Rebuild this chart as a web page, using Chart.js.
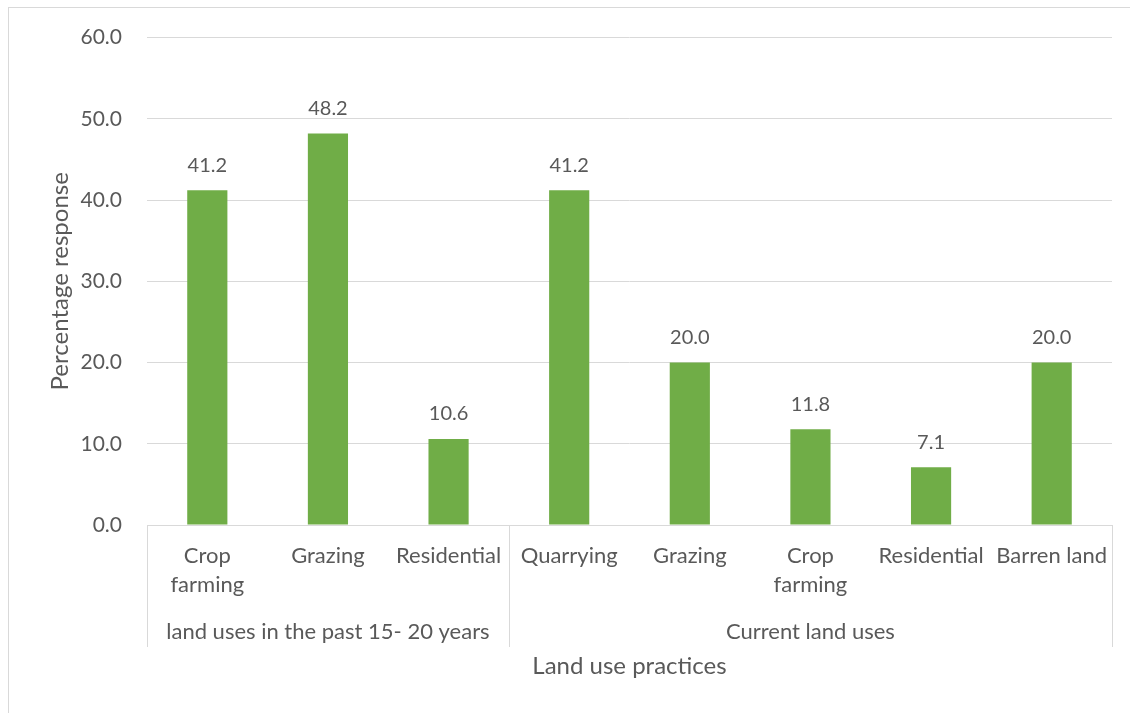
<!DOCTYPE html>
<html>
<head>
<meta charset="utf-8">
<script src="https://cdn.jsdelivr.net/npm/chart.js@4.4.1/dist/chart.umd.min.js"></script>
<style>
    body { margin: 0; background: #fff; }
    #wrap { position: relative; width: 1130px; height: 713px; overflow: hidden; }
    #frame { position: absolute; left: 8px; top: 7px; width: 1200px; height: 800px; border-left: 1px solid #d9d9d9; border-top: 1px solid #d9d9d9; }
    #chart { position: absolute; left: 0; top: 0; }
</style>
</head>
<body>
<div id="wrap">
    <div id="frame"></div>
    <canvas id="chart" width="1130" height="713"></canvas>
</div>
<script>
const categories = [
    ['Crop', 'farming'], 'Grazing', 'Residential',
    'Quarrying', 'Grazing', ['Crop', 'farming'], 'Residential', 'Barren land'
];
const groupNames = ['land uses in the past 15- 20 years', 'Current land uses'];
const groupSizes = [3, 5];
const responses = [41.2, 48.2, 10.6, 41.2, 20.0, 11.8, 7.1, 20.0];

const TEXT = '#595959';
const LINE = '#d9d9d9';
const FONT = 'Lato, "Open Sans", sans-serif';

// value labels above each bar
const barLabels = {
    id: 'barLabels',
    afterDatasetsDraw(chart) {
        const ctx = chart.ctx;
        const meta = chart.getDatasetMeta(0);
        ctx.save();
        ctx.fillStyle = TEXT;
        ctx.font = '20px ' + FONT;
        ctx.textAlign = 'center';
        ctx.textBaseline = 'bottom';
        meta.data.forEach((bar, i) => {
            ctx.fillText(responses[i].toFixed(1), bar.x, bar.y - 15);
        });
        ctx.restore();
    }
};

// second level of the category axis: group names and divider lines
const groupAxis = {
    id: 'groupAxis',
    afterDraw(chart) {
        const ctx = chart.ctx;
        const area = chart.chartArea;
        const step = (area.right - area.left) / categories.length;
        const lineBottom = area.bottom + 122;
        ctx.save();
        ctx.strokeStyle = LINE;
        ctx.lineWidth = 1;
        let start = 0;
        const edges = [0];
        groupSizes.forEach(n => { start += n; edges.push(start); });
        edges.forEach(e => {
            const px = Math.round(area.left + e * step) + 0.5;
            ctx.beginPath();
            ctx.moveTo(px, area.bottom);
            ctx.lineTo(px, lineBottom);
            ctx.stroke();
        });
        ctx.fillStyle = TEXT;
        ctx.font = '22px ' + FONT;
        ctx.textAlign = 'center';
        ctx.textBaseline = 'middle';
        groupNames.forEach((name, g) => {
            const cx = area.left + (edges[g] + edges[g + 1]) / 2 * step;
            ctx.fillText(name, cx, area.bottom + 107);
        });
        ctx.restore();
    }
};

new Chart(document.getElementById('chart'), {
    type: 'bar',
    data: {
        labels: categories,
        datasets: [{
            data: responses,
            backgroundColor: '#70ad47',
            borderWidth: 0,
            barPercentage: 0.333,
            categoryPercentage: 1
        }]
    },
    options: {
        responsive: false,
        animation: false,
        layout: { padding: { top: 36, right: 18, left: 0, bottom: 0 } },
        plugins: { legend: { display: false }, tooltip: { enabled: false } },
        scales: {
            x: {
                grid: { display: false, drawTicks: false },
                border: { color: LINE, width: 1 },
                ticks: {
                    color: TEXT,
                    font: { family: FONT, size: 22, lineHeight: 1.32 },
                    padding: 16,
                    maxRotation: 0,
                    autoSkip: false
                },
                title: {
                    display: true,
                    text: 'Land use practices',
                    color: TEXT,
                    font: { family: FONT, size: 24 },
                    padding: { top: 0, bottom: 32 }
                },
                afterFit: s => { s.height = 188; }
            },
            y: {
                min: 0,
                max: 60,
                grid: { color: LINE, drawTicks: false },
                border: { display: false },
                ticks: {
                    stepSize: 10,
                    color: TEXT,
                    font: { family: FONT, size: 21 },
                    padding: 25,
                    callback: v => v.toFixed(1)
                },
                title: {
                    display: true,
                    text: 'Percentage response',
                    color: TEXT,
                    font: { family: FONT, size: 24 },
                    padding: { top: 46, bottom: 0 }
                },
                afterFit: s => { s.width = 147; }
            }
        }
    },
    plugins: [barLabels, groupAxis]
});
</script>
</body>
</html>
